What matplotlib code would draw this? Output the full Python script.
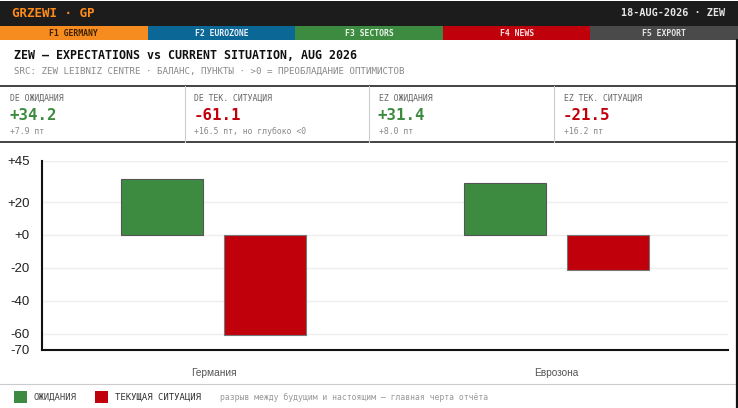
import matplotlib
matplotlib.use("Agg")
import matplotlib.pyplot as plt
from matplotlib.patches import Rectangle

# ---------------- data ----------------
categories = ["Германия", "Еврозона"]
expectations = [34.2, 31.4]
current = [-61.1, -21.5]
series_names = ["ОЖИДАНИЯ", "ТЕКУЩАЯ СИТУАЦИЯ"]
y_ticks = [45, 20, 0, -20, -40, -60, -70]

kpi_labels = ["DE ОЖИДАНИЯ", "DE ТЕК. СИТУАЦИЯ", "EZ ОЖИДАНИЯ", "EZ ТЕК. СИТУАЦИЯ"]
kpi_values = [34.2, -61.1, 31.4, -21.5]
kpi_notes = ["+7.9 пт", "+16.5 пт, но глубоко <0", "+8.0 пт", "+16.2 пт"]

tabs = ["F1 GERMANY", "F2 EUROZONE", "F3 SECTORS", "F4 NEWS", "F5 EXPORT"]
tab_colors = ["#f68b1f", "#0b6796", "#3d8b40", "#c0000b", "#4a4a4a"]
tab_text_colors = ["#3a2000", "#e8f0f6", "#e8f4e8", "#ffe0e0", "#e6e6e6"]

title = "ZEW — EXPECTATIONS vs CURRENT SITUATION, AUG 2026"
subtitle = "SRC: ZEW LEIBNIZ CENTRE · БАЛАНС, ПУНКТЫ · >0 = ПРЕОБЛАДАНИЕ ОПТИМИСТОВ"
header_left = "GRZEWI · GP"
header_right = "18-AUG-2026 · ZEW"
note = "разрыв между будущим и настоящим — главная черта отчёта"

GREEN = "#3d8b40"
RED = "#c0000b"
MONO = ["DejaVu Sans Mono"]
SANS = ["Liberation Sans", "DejaVu Sans"]

W, H = 738, 408
fig = plt.figure(figsize=(W / 100, H / 100), dpi=100)
fig.patch.set_facecolor("white")

# background axes in pixel coordinates
bg = fig.add_axes([0, 0, 1, 1])
bg.set_xlim(0, W)
bg.set_ylim(H, 0)
bg.axis("off")
bg.set_zorder(0)

# header
bg.add_patch(Rectangle((0, 1), W, 25, color="#1c1c1c", lw=0))
bg.text(12, 13.5, header_left, color="#ff8c1a", fontsize=9, fontweight="bold",
        family=MONO, va="center", ha="left")
bg.text(725, 13.5, header_right, color="#e6e6e6", fontsize=7.3, fontweight="bold",
        family=MONO, va="center", ha="right")

# tabs
tw = W / len(tabs)
for i, (t, c, tc) in enumerate(zip(tabs, tab_colors, tab_text_colors)):
    bg.add_patch(Rectangle((i * tw, 26), tw, 14, color=c, lw=0))
    bg.text(i * tw + tw / 2, 33, t, color=tc, fontsize=5.9, fontweight="bold",
            family=MONO, ha="center", va="center")

# title & subtitle
bg.text(14, 55.5, title, color="#111111", fontsize=8.4, fontweight="bold",
        family=MONO, ha="left", va="center")
bg.text(14, 71, subtitle, color="#888888", fontsize=6.6, family=MONO,
        ha="left", va="center")

# KPI row
bg.plot([0, W], [86, 86], color="#222222", lw=1.2)
bg.plot([0, W], [142, 142], color="#222222", lw=1.2)
cw = W / 4
for i in range(4):
    x0 = i * cw
    if i > 0:
        bg.plot([x0, x0], [86, 142], color="#cccccc", lw=0.8)
    v = kpi_values[i]
    bg.text(x0 + 10, 98, kpi_labels[i], color="#666666", fontsize=5.9,
            family=MONO, ha="left", va="center")
    bg.text(x0 + 9, 116, f"{v:+.1f}", color=GREEN if v >= 0 else RED,
            fontsize=11.3, fontweight="bold", family=MONO, ha="left", va="center")
    bg.text(x0 + 10, 131.5, kpi_notes[i], color="#888888", fontsize=5.9,
            family=MONO, ha="left", va="center")

# separator and legend row
bg.plot([0, W], [384, 384], color="#cccccc", lw=0.8)
bg.add_patch(Rectangle((14, 391), 13, 12, facecolor=GREEN, edgecolor="none"))
bg.text(34, 397, series_names[0], color="#444444", fontsize=6.4, family=MONO,
        ha="left", va="center")
bg.add_patch(Rectangle((95, 391), 13, 12, facecolor=RED, edgecolor="none"))
bg.text(115, 397, series_names[1], color="#333333", fontsize=6.4, family=MONO,
        ha="left", va="center")
bg.text(220, 397, note, color="#999999", fontsize=5.9, family=MONO,
        ha="left", va="center")

# right border
bg.plot([736.5, 736.5], [40, H], color="#111111", lw=1.6)

# ---------------- chart ----------------
ax_l, ax_r, ax_t, ax_b = 42, 728, 161, 350
ax = fig.add_axes([ax_l / W, 1 - ax_b / H, (ax_r - ax_l) / W, (ax_b - ax_t) / H])
ax.set_zorder(1)
ax.patch.set_alpha(0)

x = list(range(len(categories)))
off, bw = 0.15, 0.237
ax.bar([xi - off for xi in x], expectations, width=bw, color=GREEN,
       edgecolor="#555555", linewidth=0.8, zorder=3)
ax.bar([xi + off for xi in x], current, width=bw, color=RED,
       edgecolor="#777777", linewidth=0.8, zorder=3)

ax.set_xlim(-0.5, len(categories) - 0.5)
ax.set_ylim(-70, 45)
ax.set_yticks(y_ticks)
ax.set_yticklabels([f"{t:+d}" if t != 0 else "+0" for t in y_ticks],
                   fontsize=9.5, color="#222222", family=SANS)
ax.set_xticks(x)
ax.set_xticklabels(categories, fontsize=7.3, color="#555555", family=SANS)
ax.tick_params(axis="y", length=0, pad=9)
ax.tick_params(axis="x", length=0, pad=13)
for t in y_ticks[:-1]:
    ax.axhline(t, color="#eeeeee", lw=1, zorder=1)
for s in ["top", "right"]:
    ax.spines[s].set_visible(False)
ax.spines["left"].set_color("#111111")
ax.spines["bottom"].set_color("#111111")
ax.spines["left"].set_linewidth(1.5)
ax.spines["bottom"].set_linewidth(1.5)

fig.savefig("out.png", dpi=100)
